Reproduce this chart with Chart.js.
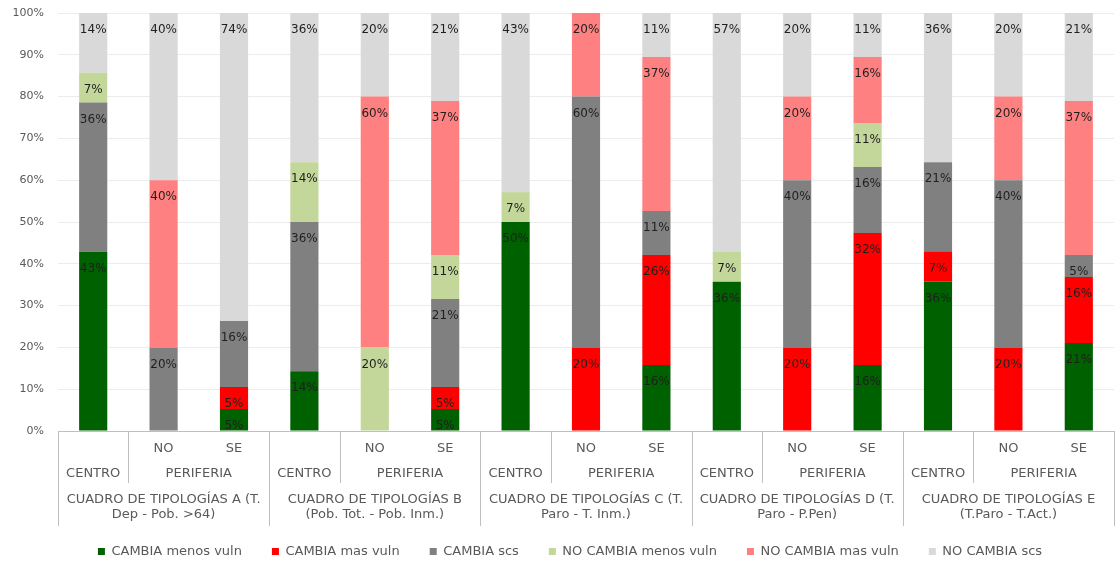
<!DOCTYPE html>
<html>
<head>
<meta charset="utf-8">
<script src="https://cdn.jsdelivr.net/npm/chart.js@4"></script>
<style>
  body { margin: 0; background: #fff; }
  #wrap { width: 1116px; height: 561px; }
</style>
</head>
<body>
<div id="wrap"><canvas id="chart"></canvas></div>
<script>
// Category levels
const groupLabels = [
    ['CUADRO DE TIPOLOGÍAS A (T.', 'Dep - Pob. >64)'],
    ['CUADRO DE TIPOLOGÍAS B', '(Pob. Tot. - Pob. Inm.)'],
    ['CUADRO DE TIPOLOGÍAS C (T.', 'Paro - T. Inm.)'],
    ['CUADRO DE TIPOLOGÍAS D (T.', 'Paro - P.Pen)'],
    ['CUADRO DE TIPOLOGÍAS E', '(T.Paro - T.Act.)']
];
const zoneLabels = ['CENTRO', 'PERIFERIA'];
const subLabels = ['', 'NO', 'SE'];

// Series values (% of each bar)
const cambiaMenos   = [42.86, 0, 5.26, 14.29, 0, 5.26, 50, 0, 15.79, 35.71, 0, 15.79, 35.71, 0, 21.05];
const cambiaMas     = [0, 0, 5.26, 0, 0, 5.26, 0, 20, 26.32, 0, 20, 31.58, 7.14, 20, 15.79];
const cambiaScs     = [35.71, 20, 15.79, 35.71, 0, 21.05, 0, 60, 10.53, 0, 40, 15.79, 21.43, 40, 5.26];
const noCambiaMenos = [7.14, 0, 0, 14.29, 20, 10.53, 7.14, 0, 0, 7.14, 0, 10.53, 0, 0, 0];
const noCambiaMas   = [0, 40, 0, 0, 60, 36.84, 0, 20, 36.84, 0, 20, 15.79, 0, 20, 36.84];
const noCambiaScs   = [14.29, 40, 73.68, 35.71, 20, 21.05, 42.86, 0, 10.53, 57.14, 20, 10.53, 35.71, 20, 21.05];

const yTicks = [0, 10, 20, 30, 40, 50, 60, 70, 80, 90, 100];

// one category per bar: group / zone / sub
const categories = [];
groupLabels.forEach((g, gi) => {
    subLabels.forEach((s, si) => {
        categories.push({ group: gi, zone: si === 0 ? 0 : 1, sub: s });
    });
});

const FONT = '"DejaVu Sans", Verdana, sans-serif';
const TEXT = '#595959';
const LINE = '#bfbfbf';

// data labels drawn near the top of each segment
const segmentLabels = {
    id: 'segmentLabels',
    afterDatasetsDraw(chart) {
        const ctx = chart.ctx;
        ctx.save();
        ctx.font = '12px ' + FONT;
        ctx.fillStyle = '#1f1f1f';
        ctx.textAlign = 'center';
        ctx.textBaseline = 'middle';
        chart.data.datasets.forEach((ds, di) => {
            const meta = chart.getDatasetMeta(di);
            meta.data.forEach((bar, i) => {
                const v = ds.data[i];
                if (!v) return;
                ctx.fillText(Math.round(v) + '%', bar.x, bar.y + 17);
            });
        });
        ctx.restore();
    }
};

// multi-level category axis
const multiLevelAxis = {
    id: 'multiLevelAxis',
    afterLayout(chart) {
        // nudge the legend to sit like the original (under the plot, a bit lower)
        if (chart.legend) {
            chart.legend.left += 26;
            chart.legend.top += 7;
        }
    },
    afterDraw(chart) {
        const ctx = chart.ctx;
        const x = chart.scales.x;
        const bottom = chart.chartArea.bottom;
        const step = x.getPixelForValue(1) - x.getPixelForValue(0);
        const left = i => x.getPixelForValue(i) - step / 2;

        ctx.save();
        ctx.strokeStyle = LINE;
        ctx.lineWidth = 1;
        const vline = (px, len) => {
            ctx.beginPath();
            ctx.moveTo(Math.round(px) + 0.5, bottom);
            ctx.lineTo(Math.round(px) + 0.5, bottom + len);
            ctx.stroke();
        };
        categories.forEach((c, i) => {
            if (c.sub === '') vline(left(i), 95);
            if (c.sub === 'NO') vline(left(i), 52);
        });
        vline(left(categories.length), 95);

        ctx.fillStyle = TEXT;
        ctx.textAlign = 'center';
        ctx.textBaseline = 'middle';
        ctx.font = '13px ' + FONT;
        categories.forEach((c, i) => {
            const cx = x.getPixelForValue(i);
            if (c.sub) ctx.fillText(c.sub, cx, bottom + 18);
            if (c.zone === 0) ctx.fillText(zoneLabels[0], cx, bottom + 43);
        });
        groupLabels.forEach((g, gi) => {
            const first = gi * subLabels.length;
            const periCenter = (x.getPixelForValue(first + 1) + x.getPixelForValue(first + 2)) / 2;
            ctx.fillText(zoneLabels[1], periCenter, bottom + 43);
            const gc = x.getPixelForValue(first + 1);
            ctx.fillText(g[0], gc, bottom + 69);
            ctx.fillText(g[1], gc, bottom + 84);
        });
        ctx.restore();
    }
};

const ctx = document.getElementById('chart').getContext('2d');
new Chart(ctx, {
    type: 'bar',
    data: {
        labels: categories.map(c => groupLabels[c.group][0] + ' ' + zoneLabels[c.zone] + ' ' + c.sub),
        datasets: [
            { label: 'CAMBIA menos vuln', data: cambiaMenos, backgroundColor: '#006100' },
            { label: 'CAMBIA mas vuln', data: cambiaMas, backgroundColor: '#ff0000' },
            { label: 'CAMBIA scs', data: cambiaScs, backgroundColor: '#808080' },
            { label: 'NO CAMBIA menos vuln', data: noCambiaMenos, backgroundColor: '#c4d79b' },
            { label: 'NO CAMBIA mas vuln', data: noCambiaMas, backgroundColor: '#ff8080' },
            { label: 'NO CAMBIA scs', data: noCambiaScs, backgroundColor: '#d9d9d9' }
        ]
    },
    options: {
        responsive: true,
        maintainAspectRatio: false,
        animation: false,
        datasets: {
            bar: { barPercentage: 0.4, categoryPercentage: 1.0 }
        },
        layout: {
            autoPadding: false,
            padding: { top: 13, left: 0, right: 2, bottom: 0 }
        },
        plugins: {
            tooltip: { enabled: false },
            legend: {
                position: 'bottom',
                labels: {
                    boxWidth: 7,
                    boxHeight: 7,
                    padding: 30,
                    color: TEXT,
                    font: { family: FONT, size: 13 }
                }
            }
        },
        scales: {
            x: {
                stacked: true,
                grid: { display: false },
                border: { display: true, color: LINE },
                ticks: { display: false },
                afterFit(scale) { scale.height = 77; }
            },
            y: {
                stacked: true,
                min: 0,
                max: 100,
                afterBuildTicks(scale) { scale.ticks = yTicks.map(v => ({ value: v })); },
                afterFit(scale) { scale.width = 58; },
                grid: {
                    color: '#ececec',
                    drawTicks: true,
                    tickLength: 14,
                    tickColor: 'rgba(0,0,0,0)'
                },
                border: { display: false },
                ticks: {
                    padding: 0,
                    color: TEXT,
                    font: { family: FONT, size: 11 },
                    callback: v => v + '%'
                }
            }
        }
    },
    plugins: [segmentLabels, multiLevelAxis]
});
</script>
</body>
</html>
